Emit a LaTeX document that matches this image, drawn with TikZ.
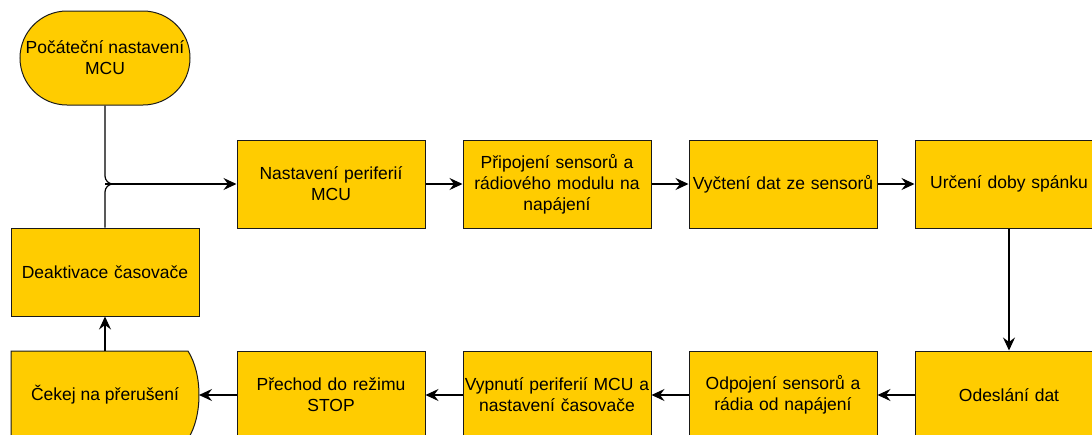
\documentclass[tikz,border=0pt]{standalone}
\usepackage{fontspec}
\setmainfont{Liberation Sans}
\usetikzlibrary{arrows.meta}
\definecolor{boxfill}{HTML}{FFCC00}
\definecolor{boxline}{HTML}{1A1A1A}
\begin{document}
\begin{tikzpicture}[x=1pt,y=-1pt,
  every node/.style={font=\fontsize{17.5}{21}\selectfont},
  stepbox/.style={draw=boxline,fill=boxfill,line width=1pt,minimum width=188pt,minimum height=88pt,inner sep=0pt,align=center,text width=186pt},
  conn/.style={draw=black,line width=1.2pt,-{Stealth[length=13pt,width=12pt,inset=4.5pt]}},
  plainline/.style={draw=black,line width=1.2pt}
]
\useasboundingbox (0,0) rectangle (1092,434);
% terminal
\node[draw=boxline,fill=boxfill,line width=1pt,rounded corners=47pt,minimum width=170pt,minimum height=94pt,inner sep=0pt,align=center] (start) at (105,58) {Počáteční nastavení\\MCU};
% top row
\node[stepbox] (b1) at (331,184) {Nastavení periferií\\MCU};
\node[stepbox] (b2) at (557,184) {Připojení sensorů a\\rádiového modulu na\\napájení};
\node[stepbox] (b3) at (783,184) {Vyčtení dat ze sensorů};
\node[stepbox] (b4) at (1009,184) {Určení doby spánku};
% bottom row
\node[stepbox] (c4) at (1009,395) {Odeslání dat};
\node[stepbox] (c3) at (783,395) {Odpojení sensorů a\\rádia od napájení};
\node[stepbox] (c2) at (557,395) {Vypnutí periferií MCU a\\nastavení časovače};
\node[stepbox] (c1) at (331,395) {Přechod do režimu\\STOP};
% delay shape
\draw[draw=boxline,fill=boxfill,line width=1pt] (11,351) -- (188,351) .. controls (195,362) and (199,378) .. (199,395) .. controls (199,412) and (195,428) .. (188,439) -- (11,439) -- cycle;
\node[inner sep=0pt] (wait) at (105,395) {Čekej na přerušení};
\coordinate (waitE) at (199,395);
\coordinate (waitN) at (105,351);
% deactivate
\node[stepbox] (deact) at (105,272) {Deaktivace časovače};
% connectors
\coordinate (j) at (105,184);
\draw[plainline,rounded corners=8pt] (start.south) -- (j) -- ([xshift=20pt]j);
\draw[plainline,rounded corners=8pt] (deact.north) -- (j) -- ([xshift=20pt]j);
\draw[conn] (j) -- (b1.west);
\draw[conn] (b1) -- (b2);
\draw[conn] (b2) -- (b3);
\draw[conn] (b3) -- (b4);
\draw[conn] (b4) -- (c4);
\draw[conn] (c4) -- (c3);
\draw[conn] (c3) -- (c2);
\draw[conn] (c2) -- (c1);
\draw[conn] (c1.west) -- (waitE);
\draw[conn] (waitN) -- (deact.south);
\end{tikzpicture}
\end{document}
